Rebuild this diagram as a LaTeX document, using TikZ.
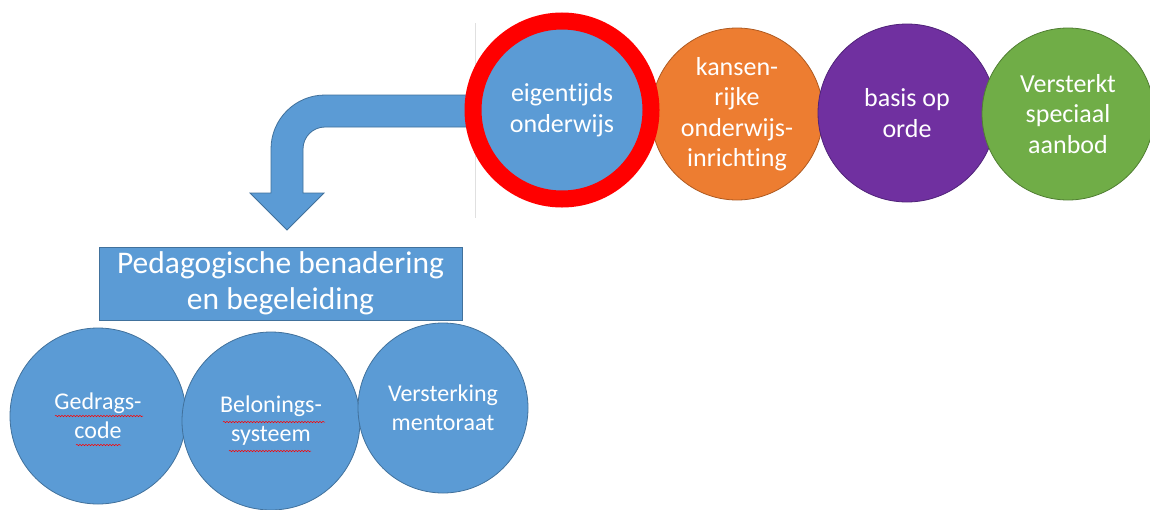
\documentclass[tikz,border=0pt]{standalone}
\usepackage{fontspec}
\setmainfont[Ligatures=NoCommon]{Carlito}
\usetikzlibrary{decorations.pathmorphing}
\definecolor{oblue}{HTML}{5B9BD5}
\definecolor{obluel}{HTML}{41719C}
\definecolor{oorange}{HTML}{ED7D31}
\definecolor{oorangel}{HTML}{AE5A21}
\definecolor{opurple}{HTML}{7030A0}
\definecolor{opurplel}{HTML}{502379}
\definecolor{ogreen}{HTML}{70AD47}
\definecolor{ogreenl}{HTML}{507E32}
\definecolor{ored}{HTML}{FF0000}
\begin{document}
\begin{tikzpicture}[x=1pt,y=-1pt,
  topcirc/.style={circle, inner sep=0pt, text=white, align=center,
    font=\fontsize{26}{30.5}\selectfont, line width=0.8pt},
  botcirc/.style={circle, inner sep=0pt, text=white, align=center, fill=oblue, draw=obluel,
    font=\fontsize{24}{29}\selectfont, line width=0.8pt},
  bluebox/.style={rectangle, inner sep=0pt, text=white, align=center, fill=oblue, draw=obluel,
    font=\fontsize{31.5}{36}\selectfont, line width=0.8pt},
  bentarrow/.style={fill=oblue, draw=obluel, line width=0.8pt, line join=miter},
  spell/.style={draw=ored, line width=0.5pt, decorate,
    decoration={snake, amplitude=0.7pt, segment length=3pt}}]
\useasboundingbox (0,0) rectangle (1150,509);
\fill[white] (0,0) rectangle (1150,509);

% thin separator line
\coordinate (sepT) at (475,23);
\coordinate (sepB) at (475,218);
\draw[black!12, line width=0.8pt] (sepT) -- (sepB);

% bent arrow
\coordinate (arrS) at (470,95);
\path[bentarrow] (arrS) -- (325,95) .. controls (295.2,95) and (271,119.2) .. (271,149)
  -- (271,193) -- (250,193) -- (287,230) -- (324,193) -- (303,193) -- (303,149)
  .. controls (303,136.85) and (312.85,127) .. (325,127) -- (470,127) -- cycle;

% top circles
\node[topcirc, fill=oorange, draw=oorangel, minimum size=172] (kans) at (737,114)
  {kansen-\\rijke\\onderwijs-\\inrichting};
\node[topcirc, fill=opurple, draw=opurplel, minimum size=178] (basis) at (907,113)
  {basis op\\orde};
\node[topcirc, fill=ogreen, draw=ogreenl, minimum size=172] (verst) at (1068,114)
  {Versterkt\\speciaal\\aanbod};
\node[topcirc, fill=oblue, draw=ored, line width=17pt, minimum size=178] (eigen) at (562,110)
  {eigentijds\\onderwijs};

% box
\node[bluebox, minimum width=363, minimum height=73] (ped) at (280.5,283.5)
  {Pedagogische benadering\\en begeleiding};

% bottom circles
\node[botcirc, minimum size=176] (gedr) at (98,416) {Gedrags-\\code};
\node[botcirc, minimum size=178] (belo) at (271,421) {Belonings-\\systeem};
\node[botcirc, minimum size=170] (mento) at (443,408) {Versterking\\mentoraat};

% spell-check underlines
\draw[spell] (55,416) -- (143,416);
\draw[spell] (76,445) -- (121,445);
\draw[spell] (223,422) -- (325,422);
\draw[spell] (229,451) -- (311,451);
\end{tikzpicture}
\end{document}
